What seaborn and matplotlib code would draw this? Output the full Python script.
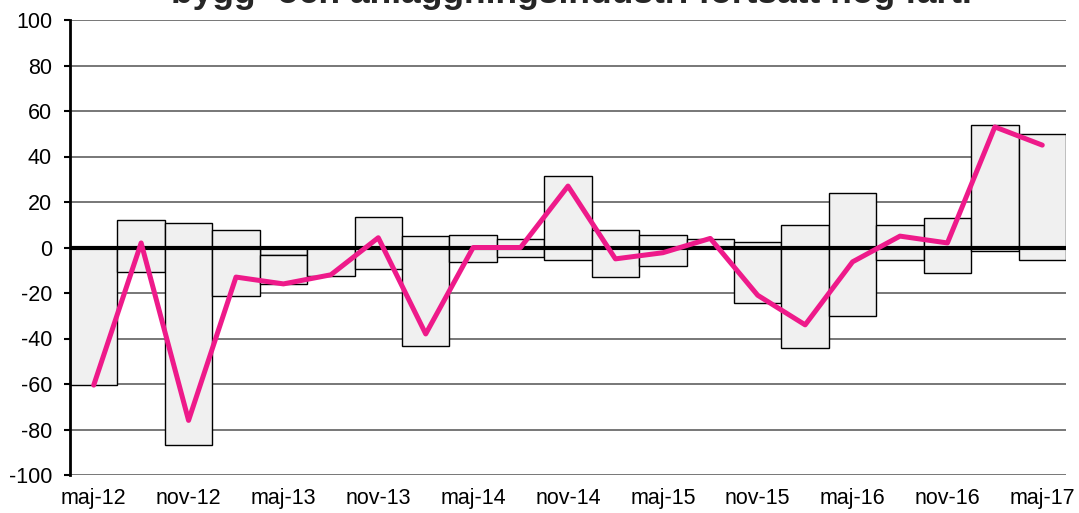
import numpy as np
import pandas as pd
import matplotlib
matplotlib.use('Agg')
import matplotlib.pyplot as plt
import seaborn as sns

# kvartal, maj-12 .. maj-17
perioder = ['maj-12', 'aug-12', 'nov-12', 'feb-13', 'maj-13', 'aug-13', 'nov-13',
            'feb-14', 'maj-14', 'aug-14', 'nov-14', 'feb-15', 'maj-15', 'aug-15',
            'nov-15', 'feb-16', 'maj-16', 'aug-16', 'nov-16', 'feb-17', 'maj-17']
# andel ökning (övre del av stapeln)
okning = [0, 12.2, 10.7, 7.8, -3.2, 0, 13.6, 5.1, 5.7, 3.7, 31.5,
          7.8, 5.7, 3.8, 2.5, 9.8, 24.0, 9.8, 12.8, 53.9, 49.8]
# andel minskning (undre del av stapeln)
minskning = [-60.5, -10.8, -86.6, -21.5, -12.8, -12.6, -9.3, -43.5, -6.4, -4.2, -5.3,
             -13.0, -8.0, -0.3, -24.3, -44.1, -30.3, -5.5, -11.1, -1.4, -5.4]
# nettotal
netto = [-60.5, 2, -76, -13, -16, -12, 4.3, -38, 0, 0, 27,
         -5, -2.3, 4, -21, -34, -6.3, 5, 2, 53, 45]

df = pd.DataFrame({'period': perioder, 'okning': okning,
                   'minskning': minskning, 'netto': netto})
df['pos'] = np.arange(len(df))
# negativa delar staplas på varandra
df['bas'] = np.where(df['okning'] < 0, df['okning'], 0)

sns.set_style('white')
plt.rcParams['font.family'] = ['Liberation Sans', 'DejaVu Sans']
plt.rcParams['axes.unicode_minus'] = False

fig = plt.figure(figsize=(10.79, 5.13), dpi=100)
ax = fig.add_axes([70 / 1079, 1 - 475 / 513, (1066 - 70) / 1079, 455 / 513])

bar_kw = dict(color='#f0f0f0', edgecolor='black', linewidth=1.0, width=1.0,
              saturation=1, zorder=2)
sns.barplot(data=df, x='period', y='okning', ax=ax, **bar_kw)
sns.barplot(data=df, x='period', y='minskning', bottom=df['bas'].values, ax=ax, **bar_kw)

ax.axhline(0, color='black', lw=3.0, zorder=3)
sns.lineplot(data=df, x='pos', y='netto', ax=ax, color='#ee1a8a', lw=3.6,
             zorder=4, solid_capstyle='round', solid_joinstyle='round')

ax.set_xlim(-0.5, len(df) - 0.5)
ax.set_ylim(-100, 100)
ax.set_yticks(np.arange(-100, 101, 20))
ax.set_xticks(df['pos'][::2])
ax.set_xticklabels(df['period'][::2])
ax.yaxis.grid(True, color='#606060', lw=1.2, zorder=0)
ax.set_axisbelow(True)
ax.set_xlabel('')
ax.set_ylabel('')
for s in ['top', 'right', 'bottom']:
    ax.spines[s].set_visible(False)
ax.spines['left'].set_color('black')
ax.spines['left'].set_linewidth(2)
ax.spines['left'].set_zorder(5)
ax.tick_params(axis='y', left=True, direction='out', length=4.3, width=1.5,
               color='black', labelsize=15.5, pad=8.6, labelcolor='black')
ax.tick_params(axis='x', bottom=False, labelsize=15.5, pad=6, labelcolor='black')

fig.text(0.530, 1 - 3 / 513, 'bygg- och anläggningsindustri fortsatt hög fart.',
         ha='center', va='baseline', fontsize=25.5, fontweight='bold')

fig.savefig('out.png', dpi=100)
